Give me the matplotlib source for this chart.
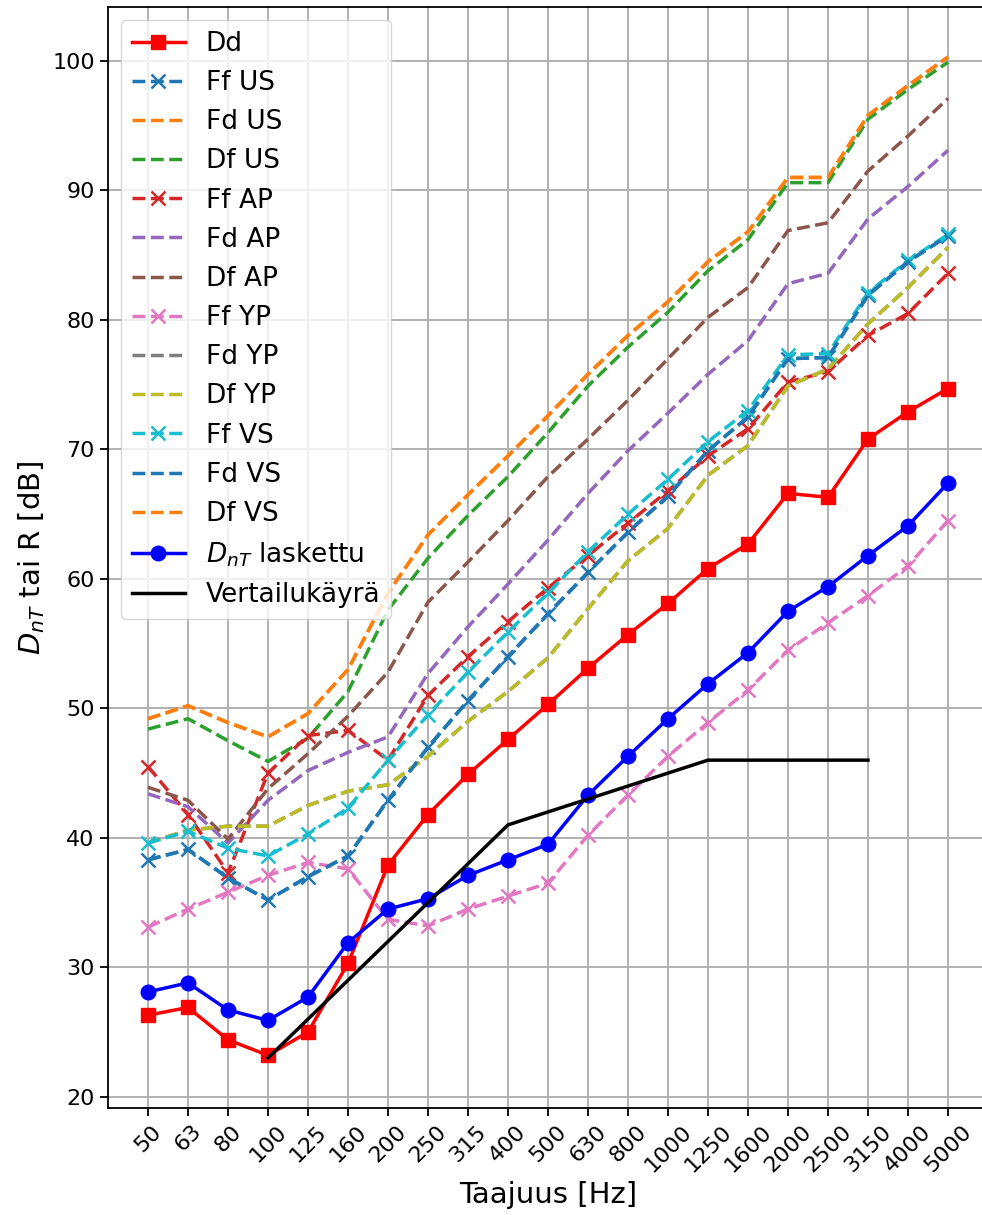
import numpy as np
import matplotlib
matplotlib.use("Agg")
import matplotlib.pyplot as plt

freqs = ["50", "63", "80", "100", "125", "160", "200", "250", "315", "400", "500",
         "630", "800", "1000", "1250", "1600", "2000", "2500", "3150", "4000", "5000"]

Dd = [26.3, 26.9, 24.4, 23.2, 25.0, 30.3, 37.9, 41.8, 44.9, 47.6, 50.3,
      53.1, 55.7, 58.1, 60.8, 62.7, 66.6, 66.3, 70.8, 72.9, 74.7]
Ff_US = [38.3, 39.1, 36.9, 35.2, 37.0, 38.6, 42.9, 47.0, 50.6, 54.0, 57.3,
         60.5, 63.6, 66.4, 69.9, 72.5, 77.0, 77.1, 81.9, 84.5, 86.5]
Fd_US = [49.2, 50.2, 48.9, 47.8, 49.6, 53.0, 58.9, 63.4, 66.5, 69.5, 72.6,
         75.8, 78.8, 81.4, 84.5, 86.8, 91.0, 91.0, 95.8, 98.1, 100.3]
Df_US = [48.4, 49.2, 47.5, 45.9, 47.7, 51.3, 57.6, 61.6, 64.9, 67.9, 71.3,
         74.9, 77.9, 80.6, 83.8, 86.2, 90.6, 90.6, 95.5, 97.8, 99.9]
Ff_AP = [45.5, 41.8, 37.3, 45.0, 47.9, 48.3, 46.0, 51.0, 54.0, 56.7, 59.3,
         61.8, 64.3, 66.8, 69.5, 71.6, 75.2, 76.0, 78.8, 80.5, 83.6]
Fd_AP = [43.4, 42.4, 39.6, 42.9, 45.2, 46.6, 47.8, 52.7, 56.3, 59.6, 63.0,
         66.6, 69.9, 72.8, 75.8, 78.4, 82.8, 83.6, 87.8, 90.3, 93.1]
Df_AP = [43.9, 42.9, 39.9, 43.8, 46.5, 49.4, 52.8, 58.2, 61.3, 64.5, 67.9,
         70.8, 73.8, 77.0, 80.2, 82.5, 86.9, 87.5, 91.5, 94.2, 97.1]
Ff_YP = [33.1, 34.5, 35.8, 37.1, 38.1, 37.6, 33.7, 33.2, 34.5, 35.5, 36.5,
         40.2, 43.3, 46.3, 48.9, 51.4, 54.5, 56.6, 58.7, 61.0, 64.5]
Df_YP = [39.6, 40.6, 40.9, 40.9, 42.5, 43.6, 44.1, 46.3, 49.0, 51.3, 53.9,
         57.7, 61.4, 63.9, 68.0, 70.3, 74.9, 76.2, 79.7, 82.5, 85.6]
Fd_YP = list(Df_YP)
Ff_VS = [39.6, 40.5, 39.2, 38.6, 40.3, 42.3, 46.0, 49.5, 52.8, 55.9, 58.9,
         62.1, 65.0, 67.7, 70.6, 73.0, 77.3, 77.4, 82.1, 84.6, 86.6]
Fd_VS = list(Ff_US)
Df_VS = list(Fd_US)
DnT = [28.1, 28.8, 26.7, 25.9, 27.7, 31.9, 34.5, 35.3, 37.1, 38.3, 39.5,
       43.3, 46.3, 49.2, 51.9, 54.3, 57.5, 59.4, 61.8, 64.1, 67.4]
ref_freqs = ["100", "125", "160", "200", "250", "315", "400", "500", "630",
             "800", "1000", "1250", "1600", "2000", "2500", "3150"]
ref_vals = [23, 26, 29, 32, 35, 38, 41, 42, 43, 44, 45, 46, 46, 46, 46, 46]

plt.rcParams['font.family'] = ['DejaVu Sans']
fig = plt.figure(figsize=(9.82, 12.15), dpi=100)
ax = fig.add_axes([108 / 982, 107 / 1215, 880 / 982, 1101 / 1215])

lw = 2.5
ms = 10.5
mew = 1.8
ax.plot(freqs, Dd, color='red', marker='s', lw=lw, ms=ms, label='Dd')
ax.plot(freqs, Ff_US, color='tab:blue', ls='--', marker='x', lw=lw, ms=ms, mew=mew, label='Ff US')
ax.plot(freqs, Fd_US, color='tab:orange', ls='--', lw=lw, label='Fd US')
ax.plot(freqs, Df_US, color='tab:green', ls='--', lw=lw, label='Df US')
ax.plot(freqs, Ff_AP, color='tab:red', ls='--', marker='x', lw=lw, ms=ms, mew=mew, label='Ff AP')
ax.plot(freqs, Fd_AP, color='tab:purple', ls='--', lw=lw, label='Fd AP')
ax.plot(freqs, Df_AP, color='tab:brown', ls='--', lw=lw, label='Df AP')
ax.plot(freqs, Ff_YP, color='tab:pink', ls='--', marker='x', lw=lw, ms=ms, mew=mew, label='Ff YP')
ax.plot(freqs, Fd_YP, color='tab:gray', ls='--', lw=lw, label='Fd YP')
ax.plot(freqs, Df_YP, color='tab:olive', ls='--', lw=lw, label='Df YP')
ax.plot(freqs, Ff_VS, color='tab:cyan', ls='--', marker='x', lw=lw, ms=ms, mew=mew, label='Ff VS')
ax.plot(freqs, Fd_VS, color='tab:blue', ls='--', lw=lw, label='Fd VS')
ax.plot(freqs, Df_VS, color='tab:orange', ls='--', lw=lw, label='Df VS')
ax.plot(freqs, DnT, color='blue', marker='o', lw=lw, ms=ms, label=r'$D_{nT}$ laskettu')
ax.plot(ref_freqs, ref_vals, color='black', lw=lw, label='Vertailukäyrä')

ax.grid(True, color='#b0b0b0', lw=1.4)
ax.set_axisbelow(True)
ax.set_yticks([20, 30, 40, 50, 60, 70, 80, 90, 100])
ax.tick_params(axis='both', labelsize=16, length=6, width=1.3)
for lab in ax.get_xticklabels():
    lab.set_rotation(45)
ax.set_xlabel('Taajuus [Hz]', fontsize=21)
ax.set_ylabel(r'$D_{nT}$ tai R [dB]', fontsize=21)
for s in ax.spines.values():
    s.set_linewidth(1.3)
ax.legend(loc='upper left', fontsize=19, handlelength=2.0, labelspacing=0.5)

fig.savefig('out.png', dpi=100)
